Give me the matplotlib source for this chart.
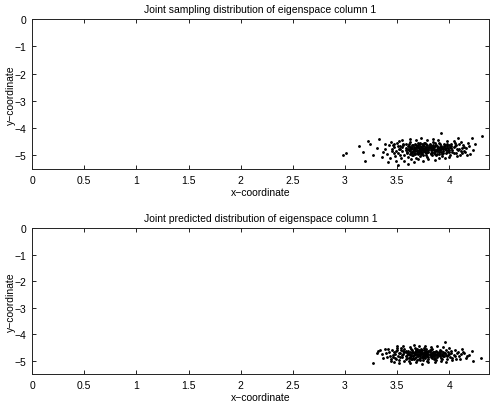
import matplotlib
matplotlib.use("Agg")
import matplotlib.pyplot as plt

plt.rcParams['font.family'] = ['Liberation Sans', 'DejaVu Sans']
plt.rcParams['axes.unicode_minus'] = True

titles = ["Joint sampling distribution of eigenspace column 1",
          "Joint predicted distribution of eigenspace column 1"]
xlabel = "x\u2212coordinate"
ylabel = "y\u2212coordinate"
xticks = [0, 0.5, 1, 1.5, 2, 2.5, 3, 3.5, 4]
xtick_labels = ["0", "0.5", "1", "1.5", "2", "2.5", "3", "3.5", "4"]
yticks = [0, -1, -2, -3, -4, -5]

sampling_x = [3.42, 3.45, 3.47, 3.48, 3.50, 3.51, 3.52, 3.53, 3.54, 3.55, 3.56, 3.57, 3.58, 3.59, 3.60, 3.60,
              3.61, 3.62, 3.62, 3.63, 3.64, 3.64, 3.65, 3.66, 3.66, 3.67, 3.67, 3.68, 3.68, 3.69, 3.70, 3.70,
              3.71, 3.71, 3.72, 3.72, 3.73, 3.73, 3.74, 3.74, 3.75, 3.75, 3.76, 3.76, 3.77, 3.77, 3.78, 3.78,
              3.79, 3.79, 3.80, 3.80, 3.81, 3.81, 3.82, 3.82, 3.83, 3.84, 3.84, 3.85, 3.85, 3.86, 3.87, 3.87,
              3.88, 3.89, 3.90, 3.90, 3.91, 3.92, 3.93, 3.93, 3.94, 3.95, 3.96, 3.97, 3.98, 3.99, 4.00, 4.01,
              4.02, 4.03, 4.05, 4.06, 4.07, 4.09, 4.10, 4.12, 4.14, 4.15, 4.18, 4.20, 4.22, 4.31, 4.08, 3.92,
              3.55, 3.58, 3.61, 3.63, 3.65, 3.66, 3.68, 3.69, 3.70, 3.71, 3.72, 3.73, 3.74, 3.75, 3.76, 3.77,
              3.78, 3.79, 3.80, 3.81, 3.82, 3.83, 3.84, 3.85, 3.86, 3.87, 3.88, 3.89, 3.90, 3.91, 3.92, 3.94,
              3.95, 3.97, 3.99, 4.01, 4.03, 3.60, 3.62, 3.64, 3.67, 3.69, 3.72, 3.74,
              3.38, 3.40, 3.43, 3.44, 3.46, 3.49, 3.36, 3.51, 3.41, 3.57, 3.60, 3.63, 3.66, 3.70, 3.75, 3.80,
              3.86, 3.90, 3.96, 4.00, 3.55, 3.62, 3.68, 3.73, 3.79, 3.84, 3.89, 3.98, 4.04, 4.11, 4.13, 4.16,
              4.19, 4.23, 4.25, 4.17, 4.12, 4.07, 4.05, 3.33, 3.24, 3.22, 3.19, 3.17, 2.98, 3.01, 3.13, 3.45,
              3.27, 3.31, 3.35, 3.38, 3.52, 3.47, 3.53, 3.58, 3.64, 3.78, 3.83, 3.88, 3.93, 3.96, 4.00, 4.02,
              4.04, 4.08, 3.71, 3.76, 3.81, 3.86,
              3.56, 3.59, 3.61, 3.63, 3.65, 3.67, 3.69, 3.70, 3.72, 3.73, 3.75, 3.76, 3.78, 3.79, 3.81, 3.82,
              3.84, 3.85, 3.86, 3.88, 3.89, 3.91, 3.92, 3.94, 3.95, 3.97, 3.98, 4.00, 4.02, 4.04, 4.06, 4.09,
              4.11, 4.14, 3.53, 3.51, 3.49, 3.47, 3.62, 3.68, 3.74, 3.80, 3.86, 3.92, 3.98, 3.66, 3.71, 3.77,
              3.83, 3.90]
sampling_y = [-4.62, -4.85, -4.71, -5.02, -4.55, -4.93, -4.78, -4.66, -5.10, -4.84, -4.59, -4.97, -4.73, -4.88, -4.64, -5.05,
              -4.80, -4.52, -4.95, -4.70, -4.87, -4.61, -5.00, -4.76, -4.91, -4.57, -4.83, -4.68, -5.08, -4.79, -4.62, -4.94,
              -4.74, -4.86, -4.53, -5.02, -4.69, -4.81, -4.90, -4.60, -4.77, -4.97, -4.66, -4.84, -4.55, -4.72, -4.93, -4.80,
              -4.63, -5.06, -4.75, -4.88, -4.58, -4.70, -4.96, -4.82, -4.65, -4.78, -4.50, -4.91, -4.71, -4.85, -4.61, -5.00,
              -4.76, -4.68, -4.89, -4.56, -4.80, -4.64, -4.95, -4.73, -4.84, -4.59, -4.77, -4.90, -4.67, -4.82, -4.62, -4.97,
              -4.74, -4.86, -4.66, -4.93, -4.78, -4.60, -5.00, -4.72, -4.85, -4.88, -4.55, -4.95, -4.37, -4.30, -4.37, -4.19,
              -4.70, -4.81, -4.67, -4.77, -4.85, -4.69, -4.74, -4.90, -4.71, -4.80, -4.66, -4.88, -4.73, -4.84, -4.75, -4.89,
              -4.68, -4.78, -4.82, -4.74, -4.69, -4.86, -4.72, -4.80, -4.67, -4.79, -4.84, -4.73, -4.77, -4.70, -4.86, -4.76,
              -4.69, -4.81, -4.74, -4.70, -4.79, -4.75, -4.85, -4.73, -4.95, -4.64, -4.83, -4.78,
              -4.75, -4.95, -5.08, -4.50, -4.63, -5.20, -4.88, -5.35, -5.25, -5.22, -5.30, -5.15, -5.25, -5.14, -5.20, -5.12,
              -5.18, -5.08, -5.10, -5.05, -4.45, -4.40, -4.42, -4.36, -4.45, -4.40, -4.43, -4.48, -4.46, -4.52, -4.63, -4.74,
              -4.66, -4.80, -4.60, -4.98, -4.91, -5.03, -4.55, -4.40, -4.58, -4.46, -5.19, -4.88, -5.00, -4.91, -4.66, -4.77,
              -4.97, -4.72, -5.05, -4.60, -4.49, -4.90, -5.00, -4.60, -4.98, -5.00, -4.97, -4.94, -5.02, -4.62, -4.88, -4.58,
              -4.70, -4.82, -4.57, -4.53, -4.62, -4.56,
              -4.62, -4.92, -4.58, -4.90, -4.63, -4.72, -4.85, -4.56, -4.75, -4.94, -4.63, -4.79, -4.60, -4.86, -4.66, -4.91,
              -4.62, -4.75, -4.95, -4.64, -4.81, -4.59, -4.76, -4.91, -4.66, -4.72, -4.58, -4.80, -4.66, -4.93, -4.62, -4.75,
              -4.84, -4.68, -4.75, -4.64, -4.83, -4.57, -4.72, -4.61, -4.69, -4.70, -4.83, -4.70, -4.87, -4.81, -4.90, -4.82,
              -4.77, -4.96]

predicted_x = [3.27, 3.32, 3.35, 3.38, 3.40, 3.42, 3.44, 3.45, 3.46, 3.48, 3.49, 3.50, 3.51, 3.52, 3.53, 3.54,
               3.55, 3.56, 3.57, 3.58, 3.58, 3.59, 3.60, 3.61, 3.61, 3.62, 3.63, 3.63, 3.64, 3.65, 3.65, 3.66,
               3.67, 3.67, 3.68, 3.68, 3.69, 3.70, 3.70, 3.71, 3.71, 3.72, 3.72, 3.73, 3.73, 3.74, 3.74, 3.75,
               3.75, 3.76, 3.76, 3.77, 3.77, 3.78, 3.78, 3.79, 3.80, 3.80, 3.81, 3.82, 3.82, 3.83, 3.84, 3.85,
               3.85, 3.86, 3.87, 3.88, 3.89, 3.90, 3.91, 3.92, 3.93, 3.94, 3.95, 3.96, 3.97, 3.98, 3.99, 4.01,
               4.02, 4.04, 4.06, 4.07, 4.09, 4.11, 4.13, 4.16, 4.17, 4.22, 4.23, 4.30,
               3.55, 3.57, 3.59, 3.60, 3.62, 3.63, 3.64, 3.66, 3.67, 3.68, 3.69, 3.70, 3.71, 3.72, 3.73, 3.74,
               3.75, 3.76, 3.77, 3.78, 3.79, 3.80, 3.81, 3.82, 3.83, 3.84, 3.85, 3.86, 3.87, 3.88, 3.90, 3.91,
               3.93, 3.95, 3.58, 3.61, 3.64, 3.66, 3.69, 3.72, 3.76, 3.79, 3.83, 3.87,
               3.47, 3.52, 3.57, 3.62, 3.68, 3.74, 3.80, 3.86, 3.92, 3.97, 3.50, 3.56, 3.62, 3.66, 3.71, 3.77,
               3.82, 3.88, 3.94, 4.00, 4.03, 4.05, 4.08, 4.10, 4.12, 4.14, 4.19, 3.36, 3.39, 3.41, 3.43, 3.44,
               3.47, 3.49, 3.53, 3.54, 3.97, 3.98, 4.00, 4.03, 4.05, 3.31, 3.34, 3.93,
               3.56, 3.58, 3.60, 3.62, 3.64, 3.65, 3.67, 3.68, 3.70, 3.71, 3.73, 3.74, 3.75, 3.77, 3.78, 3.80,
               3.81, 3.83, 3.84, 3.86, 3.88, 3.89, 3.91, 3.92, 3.94, 3.96, 3.99, 4.02, 3.52, 3.50, 3.48, 3.46,
               3.63, 3.69, 3.72, 3.76, 3.79, 3.82, 3.85, 3.90]
predicted_y = [-5.10, -4.62, -4.75, -4.55, -4.85, -4.68, -4.95, -4.58, -4.77, -4.88, -4.64, -4.52, -4.81, -4.97, -4.70, -4.60,
               -4.86, -4.74, -4.55, -4.92, -4.67, -4.80, -4.62, -5.00, -4.73, -4.85, -4.57, -4.78, -4.93, -4.66, -4.82, -4.71,
               -4.52, -4.88, -4.76, -4.63, -4.98, -4.69, -4.84, -4.58, -4.79, -4.91, -4.65, -4.74, -4.54, -4.86, -4.70, -4.81,
               -4.96, -4.61, -4.77, -4.89, -4.67, -4.56, -4.83, -4.73, -4.94, -4.64, -4.79, -4.87, -4.59, -4.72, -4.82, -4.66,
               -4.92, -4.76, -4.62, -4.85, -4.71, -4.80, -4.58, -4.90, -4.74, -4.66, -4.84, -4.30, -4.77, -4.95, -4.69, -4.86,
               -4.63, -4.79, -4.92, -4.70, -4.84, -4.76, -4.66, -4.88, -4.82, -4.63, -5.00, -4.90,
               -4.78, -4.69, -4.88, -4.74, -4.68, -4.83, -4.72, -4.79, -4.66, -4.85, -4.74, -4.77, -4.68, -4.82, -4.64, -4.76,
               -4.72, -4.86, -4.74, -4.70, -4.81, -4.75, -4.69, -4.78, -4.88, -4.74, -4.79, -4.69, -4.80, -4.73, -4.67, -4.83,
               -4.78, -4.72, -4.62, -4.90, -4.60, -4.95, -4.55, -4.99, -4.53, -5.00, -4.55, -4.97,
               -5.05, -5.08, -5.02, -5.10, -5.05, -5.12, -5.06, -5.03, -5.00, -5.06, -4.46, -4.44, -4.47, -4.42, -4.46, -4.44,
               -4.47, -4.43, -4.50, -4.52, -4.98, -4.58, -4.67, -4.95, -4.55, -4.72, -4.78, -4.90, -4.70, -4.57, -4.82, -5.00,
               -4.67, -4.93, -4.85, -4.52, -4.60, -4.82, -4.74, -4.88, -4.81, -4.70, -4.58, -4.94,
               -4.65, -4.84, -4.70, -4.78, -4.66, -4.89, -4.73, -4.58, -4.80, -4.94, -4.70, -4.61, -4.88, -4.78, -4.64, -4.85,
               -4.60, -4.80, -4.68, -4.90, -4.66, -4.77, -4.70, -4.62, -4.81, -4.70, -4.78, -4.72, -4.72, -4.60, -4.76, -4.87,
               -4.95, -4.62, -4.74, -4.70, -4.66, -4.74, -4.84, -4.75]

fig = plt.figure(figsize=(4.95, 4.14), dpi=100)
ax1 = fig.add_axes([32/495, 1 - 170/414, 457/495, 150/414])
ax2 = fig.add_axes([32/495, 1 - 375/414, 457/495, 146/414])

panels = [(ax1, sampling_x, sampling_y, titles[0], 4.38),
          (ax2, predicted_x, predicted_y, titles[1], 4.38)]

for ax, xs, ys, title, xmax in panels:
    ax.plot(xs, ys, linestyle='none', marker='.', markersize=2.1, color='black')
    ax.set_xlim(0, xmax)
    ax.set_ylim(-5.5, 0)
    ax.set_xticks(xticks)
    ax.set_xticklabels(xtick_labels)
    ax.set_yticks(yticks)
    ax.tick_params(direction='in', length=3, width=0.6, top=True, right=True,
                   labelsize=7.5, pad=4, colors='black')
    for s in ax.spines.values():
        s.set_linewidth(0.7)
        s.set_color('#222222')
    ax.set_title(title, fontsize=7.5, pad=5)
    ax.set_xlabel(xlabel, fontsize=7.5, labelpad=2)
    ax.set_ylabel(ylabel, fontsize=7.5, labelpad=0)
    ax.yaxis.set_label_coords(-0.036, 0.5)

fig.savefig("out.png", dpi=100)
